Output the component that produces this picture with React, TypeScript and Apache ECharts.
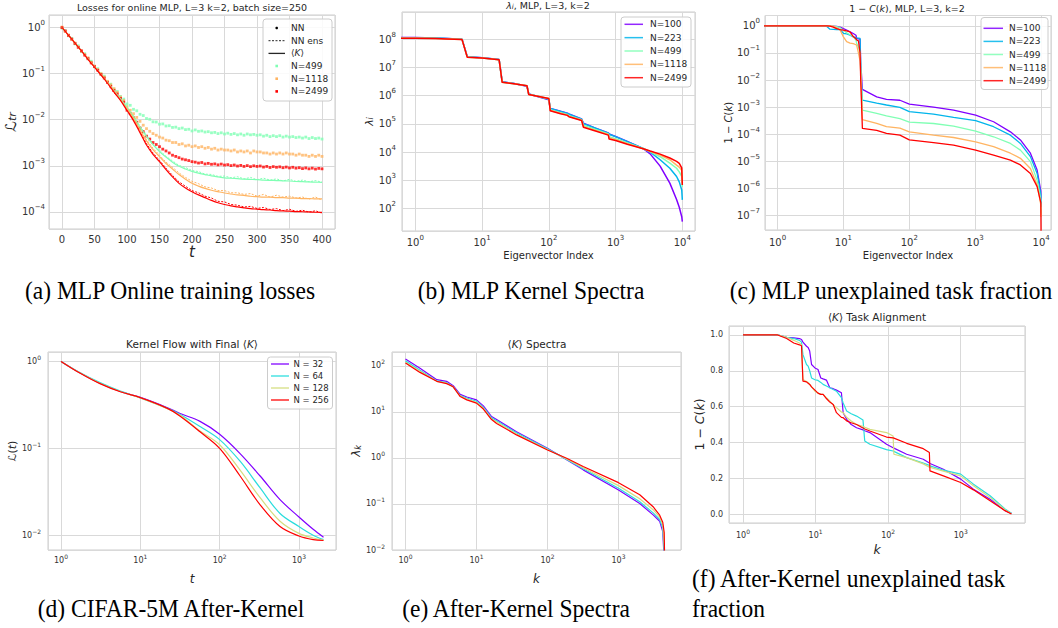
import React, { useEffect, useRef } from "react";
import * as echarts from "echarts";

// ---------- colours ----------
const RAINBOW5 = ["#8000ff", "#00b5eb", "#80ffb4", "#ffb462", "#ff0000"];
const RAINBOW4 = ["#8000ff", "#2adddd", "#d4dd80", "#ff0000"];

// ---------- panel (a): online MLP losses ----------
const tFine = [0,5,10,15,20,25,30,35,40,45,50,55,60,65,70,75,80,85,90,95,100,105,110,115,120,125,130,135,140,145,150,155,160,165,170,175,180,185,190,195,200,205,210,215,220,225,230,235,240,245,250,255,260,265,270,275,280,285,290,295,300,305,310,315,320,325,330,335,340,345,350,355,360,365,370,375,380,385,390,395,400];
const tCoarse = [0,10,20,30,40,50,60,70,80,90,100,110,120,130,140,150,160,170,180,190,200,210,220,230,240,250,260,270,280,290,300,310,320,330,340,350,360,370,380,390,400];
const aLabels = ["N=499", "N=1118", "N=2499"];
const nnN499 = [0.97,0.85,0.66,0.58,0.44,0.40,0.30,0.27,0.21,0.185,0.14,0.128,0.098,0.088,0.066,0.059,0.046,0.041,0.032,0.028,0.022,
  0.0205,0.0168,0.0156,0.0131,0.0123,0.0106,0.0102,0.0090,0.0089,0.0080,0.0081,0.0073,0.0074,0.0068,0.0069,0.0064,0.0066,0.0061,0.0062,0.0057,
  0.0060,0.0056,0.0057,0.0054,0.0055,0.0052,0.0053,0.0050,0.0052,0.0049,
  0.0051,0.0048,0.0050,0.0047,0.0049,0.0046,0.0049,0.0047,0.0048,0.0046,
  0.0047,0.0044,0.0046,0.0043,0.0045,0.0043,0.0045,0.0042,0.0044,0.0042,
  0.0043,0.0041,0.0042,0.0040,0.0042,0.0039,0.0041,0.0039,0.0040,0.0038];
const nnN1118 = [1.02,0.82,0.69,0.55,0.46,0.38,0.31,0.26,0.22,0.175,0.145,0.122,0.10,0.084,0.068,0.057,0.047,0.039,0.031,0.026,0.019,
  0.016,0.0135,0.0112,0.0092,0.0076,0.0064,0.0056,0.0050,0.0046,0.0042,0.0040,0.0036,0.0035,0.0032,0.0032,0.0029,0.0030,0.0027,0.0028,0.0026,
  0.0027,0.0025,0.0026,0.0024,0.0025,0.0023,0.0024,0.0022,0.0023,0.0022,
  0.0022,0.0021,0.0022,0.0020,0.0021,0.0020,0.0021,0.0019,0.0021,0.0020,
  0.0020,0.0019,0.0019,0.0018,0.0019,0.0018,0.0019,0.0018,0.0019,0.0018,
  0.0018,0.0017,0.0018,0.0017,0.0017,0.0016,0.0017,0.0016,0.0017,0.0016];
const nnN2499 = [0.99,0.84,0.67,0.56,0.45,0.37,0.31,0.25,0.21,0.17,0.142,0.118,0.096,0.080,0.064,0.053,0.043,0.036,0.029,0.024,0.016,
  0.0135,0.011,0.0088,0.0066,0.0055,0.0044,0.0038,0.0032,0.0029,0.0026,0.0023,0.0021,0.0019,0.0017,0.0016,0.0015,0.0014,0.00135,0.0013,0.00123,
  0.0012,0.00115,0.00118,0.0011,0.00113,0.00108,0.0011,0.00105,0.00109,0.00104,
  0.00106,0.00101,0.00104,0.00099,0.00102,0.00097,0.00101,0.00096,0.001,0.00097,
  0.00099,0.00094,0.00097,0.00092,0.00096,0.00093,0.00095,0.00091,0.00094,0.0009,
  0.00093,0.00089,0.00091,0.00087,0.0009,0.00086,0.00089,0.00085,0.00088,0.00086];
const ensN499 = [0.95,0.70,0.44,0.32,0.20,0.146,0.092,0.067,0.041,0.030,0.0178,0.0124,0.0072,0.0047,0.0030,0.0022,0.0016,0.00128,0.00102,0.00092,0.00079,0.00075,0.00066,0.00065,0.00059,0.00060,0.00055,0.00058,0.00052,0.00056,0.00050,0.00054,0.00049,0.00052,0.00047,0.00051,0.00046,0.00049,0.00045,0.00048,0.00044];
const ensN1118 = [1.03,0.66,0.47,0.30,0.215,0.136,0.099,0.062,0.044,0.026,0.0185,0.0112,0.0064,0.0037,0.0024,0.0017,0.0012,0.00093,0.00070,0.00056,0.00046,0.00041,0.00035,0.00033,0.00029,0.00029,0.00026,0.00026,0.00024,0.00025,0.00022,0.00024,0.00021,0.00023,0.00021,0.00022,0.00020,0.00021,0.00019,0.00021,0.00018];
const ensN2499 = [0.98,0.70,0.45,0.32,0.20,0.143,0.090,0.064,0.038,0.0275,0.0165,0.0101,0.0056,0.0030,0.0019,0.00131,0.00089,0.00062,0.00045,0.00036,0.00029,0.00026,0.00022,0.00020,0.00017,0.000165,0.000145,0.00014,0.000128,0.000132,0.000119,0.000125,0.000113,0.000118,0.000107,0.000114,0.000103,0.000109,0.000099,0.000106,0.000094];
const kN499 = [1.0,0.676,0.457,0.309,0.209,0.141,0.0955,0.0646,0.0427,0.0282,0.0186,0.0117,0.00692,0.00437,0.00288,0.00204,0.00155,0.0012,0.000977,0.000851,0.000759,0.000692,0.000646,0.000603,0.000575,0.00055,0.000537,0.000525,0.000513,0.000507,0.000501,0.00049,0.000484,0.000479,0.000473,0.000468,0.000457,0.000452,0.000447,0.000442,0.000437];
const kN1118 = [1.0,0.676,0.457,0.309,0.209,0.141,0.0955,0.0646,0.0417,0.0269,0.0174,0.0107,0.00603,0.00347,0.00224,0.00158,0.00112,0.000851,0.000646,0.000513,0.000417,0.000363,0.000324,0.000295,0.000275,0.000257,0.000245,0.000234,0.000229,0.000219,0.000214,0.000209,0.000209,0.000204,0.000204,0.0002,0.0002,0.000195,0.000195,0.000191,0.000191];
const kN2499 = [1.0,0.676,0.457,0.309,0.204,0.138,0.0933,0.0617,0.0398,0.0263,0.0158,0.00955,0.00525,0.00282,0.00178,0.00123,0.000832,0.000575,0.000417,0.000331,0.000275,0.000234,0.000204,0.000178,0.000158,0.000145,0.000135,0.000129,0.000123,0.000118,0.000115,0.000112,0.00011,0.000107,0.000105,0.000104,0.000102,0.000101,0.0001,0.0000985,0.0000977];

// ---------- panel (b): MLP kernel spectra ----------
const bLabels = ["N=100", "N=223", "N=499", "N=1118", "N=2499"];
const bIndex = [0.6,1,2,3,5,6,10,18,20,30,47,50,100,105,150,190,200,310,330,500,780,800,1000,1500,2600,3300,4650,6500,8200,9000,9800,10000];
const bN100 = [1.15e8,1.14e8,1.1e8,1.06e8,1.0e8,2.4e7,2.2e7,1.9e7,3.1e6,2.7e6,2.15e6,1.15e6,7.2e5,3.55e5,2.8e5,2.4e5,2.24e5,1.5e5,1.05e5,7.1e4,4.8e4,4.4e4,3.6e4,2.4e4,1.32e4,8.7e3,3.2e3,800,210,112,52,35];
const bN223 = [1.13e8,1.12e8,1.09e8,1.05e8,1.0e8,2.4e7,2.2e7,1.9e7,3.1e6,2.7e6,2.2e6,1.15e6,7.5e5,3.5e5,2.75e5,2.35e5,2.2e5,1.48e5,1.02e5,7.0e4,4.7e4,4.3e4,3.55e4,2.35e4,1.35e4,1.0e4,5.4e3,2.7e3,1.38e3,890,460,205];
const bN499 = [1.1e8,1.09e8,1.07e8,1.04e8,9.9e7,2.35e7,2.15e7,1.87e7,3.0e6,2.65e6,2.25e6,1.12e6,7.8e5,3.2e5,2.5e5,2.15e5,1.95e5,1.4e5,8.9e4,6.3e4,4.4e4,3.5e4,3.0e4,2.1e4,1.35e4,1.05e4,6.9e3,4.1e3,2.7e3,2.0e3,1.38e3,600];
const bN1118 = [1.08e8,1.07e8,1.05e8,1.02e8,9.8e7,2.3e7,2.14e7,1.86e7,2.95e6,2.63e6,2.24e6,1.1e6,7.9e5,3.0e5,2.4e5,2.05e5,1.85e5,1.35e5,7.9e4,5.9e4,4.2e4,3.2e4,2.75e4,2.0e4,1.32e4,1.07e4,7.9e3,5.4e3,3.5e3,2.95e3,2.3e3,800];
const bN2499 = [1.07e8,1.07e8,1.05e8,1.02e8,9.8e7,2.3e7,2.14e7,1.86e7,2.95e6,2.63e6,2.24e6,1.1e6,7.9e5,2.9e5,2.3e5,2.0e5,1.78e5,1.32e5,7.6e4,5.6e4,4.0e4,2.9e4,2.6e4,1.9e4,1.32e4,1.1e4,8.5e3,6.2e3,4.7e3,4.0e3,2.8e3,690];

// ---------- panel (c): MLP unexplained task fraction ----------
const cIndex = [0.6,1,5,5.6,6.25,7,7.9,8.9,10,11.2,12.6,14.1,15.5,15.9,16.9,17.9,18.3,19.4,32,45,72,100,233,470,1015,1900,3420,4850,6880,8700,9900,10000];
const cN100 = [1,1,1,1,1,0.98,0.95,0.9,0.79,0.7,0.6,0.52,0.45,0.34,0.33,0.32,0.05,4.5e-3,2.4e-3,1.95e-3,1.8e-3,1.3e-3,1.0e-3,7.8e-4,5.1e-4,2.9e-4,1.23e-4,6.2e-5,2.0e-5,4.8e-6,8e-7,2.1e-7];
const cN223 = [1,1,1,0.95,0.75,0.74,0.73,0.72,0.53,0.5,0.45,0.39,0.37,0.36,0.35,0.34,0.023,1.8e-3,1.4e-3,1.2e-3,9.8e-4,6.8e-4,5.5e-4,4.2e-4,3.2e-4,1.9e-4,9.3e-5,4.6e-5,1.5e-5,3.6e-6,6e-7,2.1e-7];
const cN499 = [1,1,1,1,1,0.98,0.93,0.85,0.69,0.55,0.47,0.4,0.3,0.22,0.17,0.095,0.05,7.8e-4,5.9e-4,4.8e-4,3.8e-4,2.8e-4,2.5e-4,2.0e-4,1.3e-4,8.1e-5,4.6e-5,2.6e-5,9.8e-6,2.0e-6,4e-7,1.2e-7];
const cN1118 = [1,1,1,1,1,0.98,0.85,0.7,0.39,0.26,0.23,0.22,0.2,0.19,0.1,0.05,0.018,3.5e-4,2.5e-4,1.9e-4,1.7e-4,1.23e-4,9.3e-5,7.6e-5,5.2e-5,3.5e-5,2.0e-5,1.3e-5,5.5e-6,1.35e-6,2.5e-7,9e-8];
const cN2499 = [1,1,1,1,0.97,0.9,0.79,0.72,0.69,0.65,0.6,0.4,0.33,0.3,0.28,0.1,0.01,1.65e-4,1.4e-4,1.07e-4,9.3e-5,6.2e-5,4.9e-5,4.0e-5,2.6e-5,1.7e-5,1.12e-5,7.4e-6,3.6e-6,1.17e-6,3e-7,1e-8];

// ---------- panel (d): kernel flow ----------
const dLabels = ["N = 32", "N = 64", "N = 128", "N = 256"];
const dT = [1,1.75,3.1,5.6,10,21.6,31.8,56.6,100,181,324,577,1000,1510,2040];
const dN32 = [1,0.735,0.56,0.45,0.385,0.295,0.251,0.204,0.145,0.087,0.048,0.0257,0.0162,0.0117,0.0095];
const dN64 = [1,0.74,0.57,0.455,0.38,0.29,0.245,0.178,0.126,0.071,0.035,0.0178,0.0126,0.01,0.0089];
const dN128 = [1,0.735,0.56,0.45,0.38,0.287,0.24,0.158,0.11,0.056,0.027,0.0145,0.0105,0.0093,0.0088];
const dN256 = [1,0.73,0.555,0.447,0.383,0.29,0.234,0.155,0.1,0.048,0.0224,0.0126,0.0098,0.0089,0.0087];

// ---------- panel (e): <K> spectra ----------
const eK = [1,1.6,2.76,3.8,4.7,5.9,7.3,10,12.5,16.3,19.2,36.6,100,186,318,1000,1990,3070,3800,4200,4400,4500];
const eN32 = [140,89,50,46,37,24,21,18.2,13.5,7.9,6.8,3.7,1.62,0.91,0.55,0.2,0.102,0.058,0.042,0.025,0.006,0.003];
const eN64 = [128,80,47,43,35,22.5,20,17,12.5,7.4,6.4,3.5,1.57,0.93,0.58,0.22,0.112,0.064,0.046,0.03,0.009,0.003];
const eN128 = [120,76,46,42,35,22,19,16,12,7.0,6.0,3.3,1.52,0.95,0.61,0.25,0.13,0.075,0.052,0.035,0.014,0.003];
const eN256 = [115,72,46,41,35,21.5,18.2,15.5,11.5,6.8,5.6,3.16,1.48,0.98,0.65,0.29,0.158,0.087,0.057,0.04,0.024,0.003];

// ---------- panel (f): <K> task alignment ----------
const fK = [1,3,4,5,6,6.4,6.7,7.5,7.9,8.3,8.8,9.8,10.8,11.8,12.7,14.1,15.7,17.5,19.4,22.7,24,26.8,31,36.7,45,47.6,56,95,117,120,180,305,370,377,577,1000,1500,2540,4080,5000];
const fN32 = [1.0,1.0,0.987,0.984,0.98,0.975,0.96,0.937,0.93,0.91,0.835,0.816,0.807,0.76,0.755,0.748,0.705,0.7,0.692,0.677,0.566,0.529,0.5,0.482,0.47,0.465,0.455,0.39,0.37,0.368,0.334,0.306,0.285,0.282,0.25,0.195,0.139,0.083,0.019,0.004];
const fN64 = [1.0,1.0,0.987,0.98,0.97,0.96,0.89,0.835,0.826,0.8,0.76,0.75,0.746,0.735,0.724,0.715,0.705,0.695,0.686,0.65,0.62,0.575,0.56,0.547,0.525,0.408,0.39,0.36,0.352,0.35,0.315,0.285,0.272,0.269,0.245,0.223,0.167,0.102,0.028,0.004];
const fN128 = [1.0,1.0,0.987,0.97,0.955,0.946,0.751,0.74,0.735,0.724,0.71,0.686,0.675,0.668,0.668,0.65,0.631,0.61,0.594,0.57,0.566,0.54,0.52,0.5,0.49,0.485,0.473,0.455,0.436,0.334,0.315,0.28,0.262,0.26,0.24,0.213,0.158,0.093,0.024,0.002];
const fN256 = [1.0,1.0,0.98,0.955,0.945,0.94,0.742,0.738,0.73,0.724,0.71,0.692,0.675,0.668,0.668,0.645,0.625,0.612,0.566,0.54,0.538,0.52,0.51,0.5,0.48,0.475,0.464,0.43,0.425,0.424,0.395,0.365,0.343,0.241,0.213,0.176,0.135,0.074,0.019,0.0];

// ---------- captions ----------
const captions = [
  "(a) MLP Online training losses",
  "(b) MLP Kernel Spectra",
  "(c) MLP unexplained task fraction",
  "(d) CIFAR-5M After-Kernel",
  "(e) After-Kernel Spectra",
  "(f) After-Kernel unexplained task",
  "fraction",
];

const SANS = "DejaVu Sans";
const SERIF = "Liberation Serif";
const TXT = "#262626";
const GRIDC = "#d9d9d9";
const EDGE = "#cccccc";

// log tick labels as 10 with a raised exponent (rich text)
const pow10Label = (v: number) => {
  const e = Math.round(Math.log10(v));
  const s = e < 0 ? "−" + String(-e) : String(e);
  return "10{e|" + s + "}";
};

const zip = (xs: number[], ys: number[]) => xs.map((x, i) => [x, ys[i]]);

function richStyles(size: number) {
  return {
    i: { fontStyle: "italic", fontSize: size, fontFamily: SANS, color: TXT, fill: TXT },
    m: { fontStyle: "italic", fontSize: size, fontFamily: SANS, color: TXT, fill: TXT, verticalAlign: "bottom", lineHeight: size + 2 },
    s: { fontStyle: "italic", fontSize: Math.round(size * 0.7), fontFamily: SANS, color: TXT, fill: TXT, verticalAlign: "bottom", lineHeight: size + 2 },
  };
}

function axisCommon(gridIndex: number, labelSize: number, margin: number, name: string, nameSize: number, nameGap: number, italicName = false) {
  return {
    gridIndex,
    axisLine: { show: false },
    axisTick: { show: false },
    minorTick: { show: false },
    splitLine: { show: true, lineStyle: { color: GRIDC, width: 1 } },
    axisLabel: { fontSize: labelSize, color: "#333333", fontFamily: SANS, margin, showMinLabel: false, showMaxLabel: false },
    name,
    nameLocation: "middle",
    nameGap,
    nameTextStyle: { fontSize: nameSize, fontFamily: SANS, color: TXT, fontStyle: italicName ? "italic" : "normal", rich: richStyles(nameSize) },
  };
}

function logAxis(gridIndex: number, lo: number, hi: number, labelSize: number, margin: number, name: string, nameSize: number, nameGap: number, italicName = false, showMin = false) {
  const a: any = axisCommon(gridIndex, labelSize, margin, name, nameSize, nameGap, italicName);
  a.type = "log";
  a.logBase = 10;
  a.min = Math.pow(10, lo);
  a.max = Math.pow(10, hi);
  const es = Math.round(labelSize * 0.72);
  a.axisLabel.formatter = pow10Label;
  a.axisLabel.lineHeight = labelSize + 6;
  a.axisLabel.rich = {
    e: { fontSize: es, fontFamily: SANS, color: "#333333", verticalAlign: "top", lineHeight: es + 1 },
  };
  a.axisLabel.showMinLabel = showMin;
  return a;
}

function gridBox(left: number, top: number, width: number, height: number) {
  return { left, top, width, height, show: true, borderColor: EDGE, borderWidth: 1, backgroundColor: "#ffffff", containLabel: false, outerBoundsMode: "none" };
}

function lineSeries(idx: number, xs: number[], ys: number[], color: string, width = 1.3, extra: any = {}) {
  return {
    type: "line", xAxisIndex: idx, yAxisIndex: idx, data: zip(xs, ys),
    showSymbol: false, symbol: "none", silent: true, clip: true,
    smooth: extra.smooth || false,
    lineStyle: { color, width, ...(extra.lineStyle || {}) },
    itemStyle: { color },
    z: extra.z || 2,
  };
}

function text(x: number, y: number, t: string, size: number, opts: any = {}) {
  return {
    type: "text", x, y, z: 100, silent: true,
    style: { text: t, fontSize: size, fontFamily: SANS, fill: TXT, align: "center", verticalAlign: "middle", rich: richStyles(size), ...opts },
  };
}

function legendFrame(x: number, y: number, w: number, h: number) {
  return { type: "rect", z: 90, silent: true, shape: { x, y, width: w, height: h, r: 3 }, style: { fill: "rgba(255,255,255,0.85)", stroke: EDGE, lineWidth: 1 } };
}
function legendLine(x1: number, x2: number, y: number, color: string, width: number, dash?: number[]) {
  return { type: "line", z: 95, silent: true, shape: { x1, y1: y, x2, y2: y }, style: { stroke: color, lineWidth: width, lineDash: dash || null, opacity: 0.85 } };
}
function legendDot(cx: number, cy: number, color: string) {
  return { type: "rect", z: 95, silent: true, shape: { x: cx - 1.3, y: cy - 1.3, width: 2.6, height: 2.6 }, style: { fill: color } };
}

function buildOption() {
  const grids = [
    gridBox(49, 15, 286, 214),
    gridBox(402, 12, 293, 219),
    gridBox(765, 15.5, 286, 214.5),
    gridBox(48, 352, 288, 198),
    gridBox(392, 352, 289, 198),
    gridBox(729, 326, 296, 197),
  ];

  const xa: any = axisCommon(0, 10, 5, "t", 15, 14, true);
  xa.type = "value"; xa.min = -20; xa.max = 420; xa.splitNumber = 9;
  const ya = logAxis(0, -4.37, 0.27, 10, 4, "{m|ℒ}{s|tr}", 15, 29);

  const xb = logAxis(1, -0.2, 4.19, 10, 3, "Eigenvector Index", 10, 17);
  const yb = logAxis(1, 1.21, 8.96, 10, 6, "{m|λ}{s|i}", 11, 25);
  const xc = logAxis(2, -0.19, 4.15, 10, 4, "Eigenvector Index", 10, 17);
  const yc = logAxis(2, -7.53, 0.38, 10, 5, "1 − {i|C}({i|k})", 10, 30);
  const xd = logAxis(3, -0.164, 3.467, 8, 3, "t", 12, 23, true);
  const yd = logAxis(3, -2.17, 0.108, 8, 7, "{i|ℒ}({i|t})", 11, 29);
  const xe = logAxis(4, -0.19, 3.88, 8, 3, "k", 12, 23, true);
  const ye = logAxis(4, -2, 2.3, 8, 7, "{m|λ}{s|k}", 12, 25, false, true);
  const xf = logAxis(5, -0.193, 3.886, 8, 5, "k", 12.5, 15, true);
  const yf: any = axisCommon(5, 8, 6, "1 − {i|C}({i|k})", 12.5, 20);
  yf.type = "value"; yf.min = -0.05; yf.max = 1.05; yf.splitNumber = 5;
  yf.axisLabel.formatter = (v: number) => v.toFixed(1);

  const series: any[] = [];
  // (a)
  const nnSets = [nnN499, nnN1118, nnN2499];
  const ensSets = [ensN499, ensN1118, ensN2499];
  const kSets = [kN499, kN1118, kN2499];
  const aColors = [RAINBOW5[2], RAINBOW5[3], RAINBOW5[4]];
  for (let i = 0; i < 3; i++) {
    series.push({
      type: "scatter", xAxisIndex: 0, yAxisIndex: 0, data: zip(tFine, nnSets[i]), symbol: "rect", symbolSize: 2.8,
      itemStyle: { color: aColors[i] }, silent: true, z: 2,
    });
    series.push(lineSeries(0, tCoarse, ensSets[i], aColors[i], 1, { lineStyle: { type: [2, 1.5] } }));
    series.push(lineSeries(0, tCoarse, kSets[i], aColors[i], 1.2, { z: 3, smooth: 0.3 }));
  }
  // (b)
  [bN100, bN223, bN499, bN1118, bN2499].forEach((ys, i) => series.push(lineSeries(1, bIndex, ys, RAINBOW5[i], 1.5)));
  // (c)
  [cN100, cN223, cN499, cN1118, cN2499].forEach((ys, i) => series.push(lineSeries(2, cIndex, ys, RAINBOW5[i], 1.3)));
  // (d)
  [dN32, dN64, dN128, dN256].forEach((ys, i) => series.push(lineSeries(3, dT, ys, RAINBOW4[i], 1.2, { smooth: 0.35 })));
  // (e)
  [eN32, eN64, eN128, eN256].forEach((ys, i) => series.push(lineSeries(4, eK, ys, RAINBOW4[i], 1.2)));
  // (f)
  [fN32, fN64, fN128, fN256].forEach((ys, i) => series.push(lineSeries(5, fK, ys, RAINBOW4[i], 1.2)));

  const g: any[] = [];
  // titles
  g.push(text(192, 7, "Losses for online MLP, L=3 k=2, batch size=250", 9.5));
  g.push(text(548, 5, "{m|λ}{s|i}, MLP, L=3, k=2", 9.5));
  g.push(text(907, 8, "1 − {i|C}({i|k}), MLP, L=3, k=2", 9.5));
  g.push(text(192, 344, "Kernel Flow with Final ⟨{i|K}⟩", 10.5));
  g.push(text(537, 344, "⟨{i|K}⟩ Spectra", 10.5));
  g.push(text(877, 317, "⟨{i|K}⟩ Task Alignment", 10.5));

  // legend (a)
  g.push(legendFrame(263, 19, 69, 82));
  const aRows = [28, 40.7, 53.4, 66, 78.7, 91.4];
  g.push({ type: "circle", z: 95, silent: true, shape: { cx: 276.7, cy: aRows[0], r: 1.3 }, style: { fill: "#000" } });
  g.push(legendLine(268.5, 285, aRows[1], "#000", 1, [2, 1.5]));
  g.push(legendLine(268.5, 285, aRows[2], "#000", 1.3));
  aColors.forEach((c, i) => g.push(legendDot(276.7, aRows[3 + i], c)));
  const aLegendText = ["NN", "NN ens", "⟨{i|K}⟩", ...aLabels];
  aLegendText.forEach((t, i) => g.push(text(291, aRows[i], t, 9, { align: "left" })));

  // legend (b)
  g.push(legendFrame(621, 17, 70, 70));
  bLabels.forEach((t, i) => {
    const y = 24.3 + i * 13.35;
    g.push(legendLine(624.5, 643, y, RAINBOW5[i], 1.5));
    g.push(text(650, y, t, 9, { align: "left" }));
  });
  // legend (c)
  g.push(legendFrame(981, 17.5, 67, 72));
  bLabels.forEach((t, i) => {
    const y = 28.3 + i * 13.1;
    g.push(legendLine(983.5, 1003, y, RAINBOW5[i], 1.5));
    g.push(text(1009, y, t, 9, { align: "left" }));
  });
  // legend (d)
  g.push(legendFrame(267.5, 357, 65, 52));
  dLabels.forEach((t, i) => {
    const y = 364 + i * 12;
    g.push(legendLine(271, 289, y, RAINBOW4[i], 1.5));
    g.push(text(293.5, y, t, 8.5, { align: "left" }));
  });

  // captions
  const cap = (x: number, y: number, t: string, align = "center") => ({
    type: "text", x, y, z: 100, silent: true, scaleY: 1.1,
    style: { text: t, fontSize: 23.5, fontFamily: SERIF, fill: "#000", align, verticalAlign: "middle" },
  });
  g.push(cap(170, 290, captions[0]));
  g.push(cap(531, 290, captions[1]));
  g.push(cap(891, 290, captions[2]));
  g.push(cap(171, 608, captions[3]));
  g.push(cap(516, 608, captions[4]));
  g.push(cap(692, 578, captions[5], "left"));
  g.push(cap(692, 608, captions[6], "left"));

  return {
    animation: false,
    backgroundColor: "#ffffff",
    textStyle: { fontFamily: SANS },
    grid: grids,
    xAxis: [xa, xb, xc, xd, xe, xf],
    yAxis: [ya, yb, yc, yd, ye, yf],
    series,
    graphic: { elements: g },
  };
}

export default function App() {
  const ref = useRef<HTMLDivElement>(null);
  useEffect(() => {
    const chart = echarts.init(ref.current!, null, { renderer: "svg" });
    chart.setOption(buildOption() as any);
    return () => chart.dispose();
  }, []);
  return <div ref={ref} style={{ position: "absolute", left: 0, top: 0, width: 1058, height: 628, background: "#ffffff" }} />;
}
